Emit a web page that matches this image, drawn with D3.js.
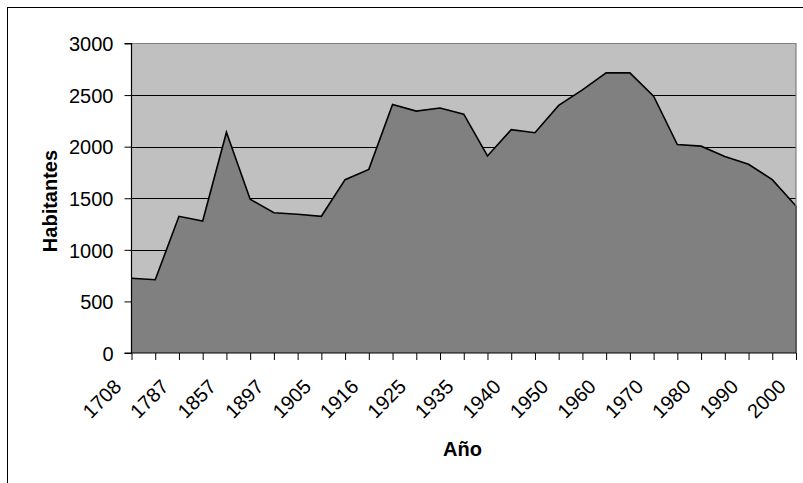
<!DOCTYPE html>
<html>
<head>
<meta charset="utf-8">
<script src="https://cdn.jsdelivr.net/npm/d3@7/dist/d3.min.js"></script>
<style>
  html, body { margin: 0; padding: 0; background: #fff; }
  svg { display: block; font-family: "Liberation Sans", Arial, sans-serif; }
</style>
</head>
<body>
<svg id="chart" width="803" height="483"></svg>
<script>
// Census years (every second one is labelled on the axis)
const years = [
  "1708", "1752", "1787", "1842", "1857", "1887", "1897", "1900", "1905", "1910",
  "1916", "1920", "1925", "1930", "1935", "1936", "1940", "1945", "1950", "1955",
  "1960", "1965", "1970", "1975", "1980", "1986", "1990", "1995", "2000"
];
// Inhabitants per census
const habitantes = [
  725, 710, 1325, 1280, 2140, 1490, 1360, 1345, 1325, 1680,
  1780, 2410, 2345, 2375, 2315, 1910, 2165, 2135, 2400, 2550,
  2715, 2715, 2490, 2020, 2005, 1905, 1830, 1680, 1425
];
const yTicks = [0, 500, 1000, 1500, 2000, 2500, 3000];
const yTitle = "Habitantes";
const xTitle = "Año";

const svg = d3.select("#chart");
const plot = { left: 131.5, top: 43.5, right: 796, bottom: 353 };

// outer frame
svg.append("rect")
  .attr("x", 7.5).attr("y", 7.5)
  .attr("width", 820).attr("height", 500)
  .attr("fill", "#fff").attr("stroke", "#000").attr("stroke-width", 1);

const x = d3.scalePoint().domain(years).range([plot.left, plot.right]);
const y = d3.scaleLinear().domain([0, 3000]).range([plot.bottom, plot.top]);

// plot background
svg.append("rect")
  .attr("x", plot.left).attr("y", plot.top)
  .attr("width", plot.right - plot.left).attr("height", plot.bottom - plot.top)
  .attr("fill", "#c0c0c0");

// horizontal gridlines
svg.append("g").selectAll("line")
  .data(yTicks.filter(d => d > 0 && d < 3000))
  .join("line")
  .attr("x1", plot.left).attr("x2", plot.right)
  .attr("y1", d => Math.round(y(d)) + 0.5).attr("y2", d => Math.round(y(d)) + 0.5)
  .attr("stroke", "#000").attr("stroke-width", 1);

// area
const area = d3.area()
  .x((d, i) => x(years[i]))
  .y0(y(0))
  .y1(d => y(d));
svg.append("path")
  .datum(habitantes)
  .attr("d", area)
  .attr("fill", "#808080");

const line = d3.line()
  .x((d, i) => x(years[i]))
  .y(d => y(d));
svg.append("path")
  .datum(habitantes)
  .attr("d", line)
  .attr("fill", "none")
  .attr("stroke", "#000")
  .attr("stroke-width", 1.6)
  .attr("stroke-linejoin", "miter");

// right edge of the area
svg.append("line")
  .attr("x1", x(years[years.length - 1])).attr("x2", x(years[years.length - 1]))
  .attr("y1", y(habitantes[habitantes.length - 1])).attr("y2", y(0))
  .attr("stroke", "#000").attr("stroke-width", 1.6);

// plot border (top and right)
svg.append("path")
  .attr("d", `M${plot.left},${plot.top}H${plot.right}V${plot.bottom}`)
  .attr("fill", "none").attr("stroke", "#808080").attr("stroke-width", 1.2);

// y axis
const yAxis = d3.axisLeft(y).tickValues(yTicks).tickFormat(d3.format("d"))
  .tickSize(7).tickPadding(11);
const gy = svg.append("g")
  .attr("transform", `translate(${plot.left},0)`)
  .call(yAxis);
gy.select(".domain").attr("stroke", "#000").attr("stroke-width", 1.2)
  .attr("d", `M-7,${plot.top}H0V${plot.bottom}H-7`);
gy.selectAll(".tick line").attr("stroke", "#000");
gy.selectAll(".tick text")
  .attr("font-size", 20).attr("font-family", "Liberation Sans, Arial, sans-serif")
  .attr("fill", "#000").attr("dy", "0.36em");

// x axis
const xAxis = d3.axisBottom(x).tickSize(7).tickFormat("");
const gx = svg.append("g")
  .attr("transform", `translate(0,${plot.bottom})`)
  .call(xAxis);
gx.select(".domain").attr("stroke", "#000").attr("stroke-width", 1.2)
  .attr("d", `M${plot.left},0H${plot.right}`);
gx.selectAll(".tick line").attr("stroke", "#000");

// rotated category labels, every second year
svg.append("g").selectAll("text")
  .data(years.filter((d, i) => i % 2 === 0))
  .join("text")
  .attr("transform", d => `translate(${x(d) - 9},388) rotate(-45)`)
  .attr("text-anchor", "end")
  .attr("font-size", 20)
  .attr("fill", "#000")
  .text(d => d);

// axis titles
svg.append("text")
  .attr("transform", `translate(56.5,201) rotate(-90)`)
  .attr("text-anchor", "middle")
  .attr("font-size", 20).attr("font-weight", "bold")
  .text(yTitle);

svg.append("text")
  .attr("x", 462.5).attr("y", 456)
  .attr("text-anchor", "middle")
  .attr("font-size", 20).attr("font-weight", "bold")
  .text(xTitle);
</script>
</body>
</html>
